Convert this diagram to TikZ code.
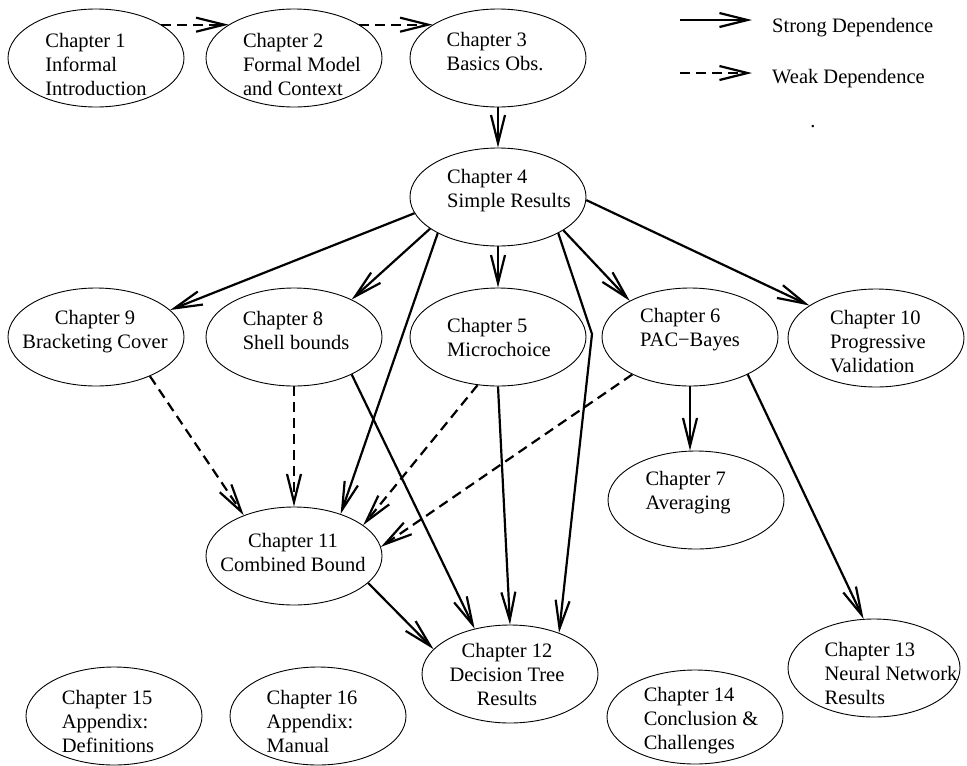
\documentclass[tikz,border=0pt]{standalone}
\usepackage{fontspec}
\setmainfont{Liberation Serif}
\usetikzlibrary{arrows.meta,shapes.geometric}
\begin{document}
\begin{tikzpicture}[x=1pt,y=1pt,
  chap/.style={draw, ellipse, line width=0.9pt, minimum width=176pt, minimum height=98pt, inner sep=0pt},
  txt/.style={font=\fontsize{20.5}{24}\selectfont, align=left, inner sep=0pt},
  ctxt/.style={txt, align=center},
  strong/.style={line width=2.2pt, -{Straight Barb[length=28pt,width=14pt]}},
  weak/.style={strong, dash pattern=on 10pt off 6pt},
]
\useasboundingbox (0,0) rectangle (967,-766);

% chapter ellipses
\node[chap] (c1)  at (96,-58)   {};
\node[chap] (c2)  at (294,-58)  {};
\node[chap] (c3)  at (498,-58)  {};
\node[chap] (c4)  at (498,-197) {};
\node[chap] (c9)  at (96,-337)  {};
\node[chap] (c8)  at (294,-337) {};
\node[chap] (c5)  at (498,-337) {};
\node[chap] (c6)  at (690,-337) {};
\node[chap] (c10) at (876,-338) {};
\node[chap] (c7)  at (696,-500) {};
\node[chap] (c11) at (294,-556) {};
\node[chap] (c12) at (510,-674) {};
\node[chap, minimum width=172pt] (c13) at (874,-668) {};
\node[chap, minimum height=94pt] (c14) at (695,-717) {};
\node[chap] (c15) at (114,-716) {};
\node[chap] (c16) at (318,-716) {};

% chapter titles
\node[txt, xshift=0pt,  yshift=-6pt]   (t1)  at (c1)  {Chapter 1\\Informal\\Introduction};
\node[txt, xshift=8pt,  yshift=-6pt]   (t2)  at (c2)  {Chapter 2\\Formal Model\\and Context};
\node[txt, xshift=-3pt, yshift=6.5pt]  (t3)  at (c3)  {Chapter 3\\Basics Obs.};
\node[txt, xshift=11pt, yshift=6pt]    (t4)  at (c4)  {Chapter 4\\Simple Results};
\node[txt, xshift=1pt,  yshift=0pt]    (t5)  at (c5)  {Chapter 5\\Microchoice};
\node[txt, xshift=0pt,  yshift=7pt]    (t6)  at (c6)  {Chapter 6\\PAC−Bayes};
\node[txt, xshift=-8pt, yshift=7.5pt]  (t7)  at (c7)  {Chapter 7\\Averaging};
\node[txt, xshift=2pt,  yshift=6.5pt]  (t8)  at (c8)  {Chapter 8\\Shell bounds};
\node[ctxt, xshift=-1pt, yshift=5pt]   (t9)  at (c9)  {Chapter 9\\Bracketing Cover};
\node[txt, xshift=2pt,  yshift=-3.5pt] (t10) at (c10) {Chapter 10\\Progressive\\Validation};
\node[ctxt, xshift=-1pt, yshift=3.5pt] (t11) at (c11) {Chapter 11\\Combined Bound};
\node[ctxt, xshift=-3pt, yshift=0pt]   (t12) at (c12) {Chapter 12\\Decision Tree\\Results};
\node[txt, xshift=17pt, yshift=-5.5pt] (t13) at (c13) {Chapter 13\\Neural Network\\Results};
\node[txt, xshift=6pt,  yshift=-4pt]   (t14) at (c14) {Chapter 14\\Conclusion \&\\Challenges};
\node[txt, xshift=-6pt, yshift=-5.5pt] (t15) at (c15) {Chapter 15\\Appendix:\\Definitions};
\node[txt, xshift=-6pt, yshift=-5.5pt] (t16) at (c16) {Chapter 16\\Appendix:\\Manual};

% dependences
\draw[weak]   (c1.27)  -- (c2.153);
\draw[weak]   (c2.27)  -- (c3.153);
\draw[strong] (c3.south) -- (c4.north);
\draw[strong] (c4.191) -- (c9.20);
\draw[strong] (c4.205) -- (c8.33);
\draw[strong] (c4.211) -- (c11.42);
\draw[strong] (c4.south) -- (c5.north);
\coordinate (bend) at (592,-334);
\draw[strong] (c4.329) -- (bend) -- (c12.40);
\draw[strong] (c4.333) -- (c6.149);
\draw[strong] (c4.358) -- (c10.154);
\draw[weak]   (c9.324) -- (c11.141);
\draw[weak]   (c8.south) -- (c11.north);
\draw[strong] (c8.327) -- (c12.128);
\draw[weak]   (c5.247) -- (c11.24);
\draw[weak]   (c6.213) -- (c11.6);
\draw[strong] (c5.south) -- (c12.north);
\draw[strong] (c11.340) -- (c12.162);
\draw[strong] (c6.south) -- (c6.south |- c7.north);
\draw[strong] (c6.327) -- (c13.102);

% legend
\coordinate (ls1) at (680,-20);
\coordinate (ls2) at (752,-20);
\coordinate (lw1) at (680,-73);
\coordinate (lw2) at (752,-73);
\draw[strong] (ls1) -- (ls2);
\draw[weak]   (lw1) -- (lw2);
\node[txt, anchor=base west] (lst) at (772,-32) {Strong Dependence};
\node[txt, anchor=base west] (lwt) at (772,-83) {Weak Dependence};
\node[txt, anchor=base] (ldot) at (813,-127) {.};
\end{tikzpicture}
\end{document}
